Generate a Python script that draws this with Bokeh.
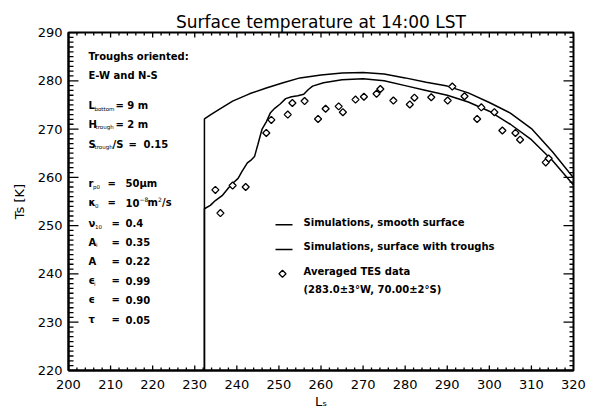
import math
from bokeh.plotting import figure
from bokeh.models import Range1d, SingleIntervalTicker, Label
from bokeh.embed import file_html
from bokeh.resources import INLINE

# ---------------- data ----------------
smooth_ls = [230.0, 232.3, 232.3, 234.0, 236.0, 239.0, 243.0, 247.0, 251.0, 255.0, 260.0,
             265.0, 270.0, 275.0, 280.0, 285.0, 290.0, 295.0, 300.0, 305.0, 310.0, 315.0, 320.0]
smooth_ts = [148.0, 148.0, 272.1, 273.1, 274.2, 275.8, 277.3, 278.5, 279.6, 280.6, 281.2,
             281.6, 281.7, 281.4, 280.6, 279.7, 278.9, 277.5, 275.5, 273.3, 270.1, 265.3, 259.9]

troughs_ls = [230.0, 232.3, 232.3, 233.7, 234.9, 236.5, 238.0, 239.3, 240.3, 241.2, 242.5, 243.3,
              244.2, 245.0, 246.0, 247.0, 248.0, 249.0, 250.3, 251.6, 253.0, 254.5, 255.9,
              257.0, 258.0, 260.6, 265.0, 270.0, 275.0, 280.0, 285.0, 290.0, 295.0, 300.0,
              305.0, 310.0, 315.0, 320.0]
troughs_ts = [148.0, 148.0, 253.5, 254.2, 255.2, 256.2, 257.8, 259.0, 259.8, 261.2, 263.0, 263.5,
              264.3, 266.8, 270.0, 271.5, 273.4, 274.3, 275.2, 276.3, 276.7, 276.9, 277.2,
              278.2, 278.9, 279.6, 280.2, 280.4, 280.0, 279.0, 278.0, 277.0, 275.6, 273.7,
              271.0, 267.8, 263.5, 258.4]

tes_ls = [234.9, 236.1, 239.0, 242.1, 247.0, 248.2, 252.1, 253.2, 256.1, 259.3, 261.1, 264.2,
          265.2, 268.2, 270.2, 273.2, 274.1, 277.2, 281.1, 282.2, 286.2, 290.1, 291.2, 294.1,
          297.1, 298.1, 301.2, 303.1, 306.2, 307.3, 313.4, 314.1]
tes_ts = [257.4, 252.6, 258.3, 258.0, 269.2, 271.9, 273.0, 275.4, 275.8, 272.1, 274.2, 274.7,
          273.5, 276.1, 276.7, 277.3, 278.3, 275.9, 275.1, 276.5, 276.6, 275.9, 278.8, 276.8,
          272.1, 274.5, 273.5, 269.7, 269.2, 267.8, 263.1, 263.9]

x_min, x_max, x_major, x_minor = 200, 320, 10, 2
y_min, y_max, y_major, y_minor = 220, 290, 10, 1

title_text = "Surface temperature at 14:00 LST"
x_label = "L\u209b"
y_label = "Ts [K]"

legend_texts = ["Simulations, smooth surface", "Simulations, surface with troughs",
                "Averaged TES data", "(283.0\u00b13\u00b0W, 70.00\u00b12\u00b0S)"]

# --------------- figure ---------------
FONT = "DejaVu Sans"
p = figure(width=591, height=413, x_range=Range1d(x_min, x_max), y_range=Range1d(y_min, y_max),
           output_backend="svg", toolbar_location=None,
           min_border_left=68, min_border_right=18, min_border_top=32, min_border_bottom=43,
           title=title_text)
p.title.align = "center"
p.title.text_font = FONT
p.title.text_font_size = "17px"
p.title.text_font_style = "normal"
p.title.text_color = "black"
p.title.standoff = 2
p.xgrid.visible = False
p.ygrid.visible = False
p.outline_line_color = "black"
p.outline_line_width = 2
p.background_fill_color = "white"
p.border_fill_color = "white"

xa = p.xaxis[0]
xa.ticker = SingleIntervalTicker(interval=x_major)
ya = p.yaxis[0]
ya.ticker = SingleIntervalTicker(interval=y_major)

for ax in (xa, ya):
    ax.major_tick_in = 0
    ax.major_tick_out = 0
    ax.minor_tick_in = 0
    ax.minor_tick_out = 0
    ax.axis_line_color = "black"
    ax.axis_line_width = 2
    ax.major_label_text_font = FONT
    ax.major_label_text_font_size = "13px"
    ax.major_label_text_color = "black"
    ax.axis_label_text_font = FONT
    ax.axis_label_text_font_size = "13px"
    ax.axis_label_text_font_style = "normal"
    ax.axis_label_text_color = "black"

xa.axis_label = x_label
xa.major_label_standoff = 9
xa.axis_label_standoff = 2
ya.axis_label = y_label
ya.major_label_standoff = 6
ya.axis_label_standoff = 8

# pixel <-> data helpers (frame is 505 x 338 px)
XPX0, XPX_PER = 68.0, 505.0 / (x_max - x_min)
YPX0, YPX_PER = 32.0, 338.0 / (y_max - y_min)


def dx(px):
    return x_min + (px - XPX0) / XPX_PER


def dy(py):
    return y_max - (py - YPX0) / YPX_PER


# --------------- inward ticks on all four sides (drawn as short lines) ---------------
xmaj = [float(v) for v in range(x_min, x_max + 1, x_major)]
xmin_t = [float(v) for v in range(x_min, x_max + 1, x_minor) if v % x_major != 0]
ymaj = [float(v) for v in range(y_min, y_max + 1, y_major)]
ymin_t = [float(v) for v in range(y_min, y_max + 1, y_minor) if v % y_major != 0]

txs, tys = [], []
for xs, ln in ((xmaj, 5), (xmin_t, 3)):
    for x in xs:
        txs.append([x, x]); tys.append([float(y_min), y_min + ln / YPX_PER])
        txs.append([x, x]); tys.append([float(y_max), y_max - ln / YPX_PER])
for ys, lnl, lnr in ((ymaj, 10, 10), (ymin_t, 5, 4)):
    for y in ys:
        txs.append([float(x_min), x_min + lnl / XPX_PER]); tys.append([y, y])
        txs.append([float(x_max), x_max - lnr / XPX_PER]); tys.append([y, y])

p.multi_line(xs=txs, ys=tys, line_color="black", line_width=1.3)

# --------------- data marks ---------------
p.line(smooth_ls, smooth_ts, line_color="black", line_width=1.5)
p.line(troughs_ls, troughs_ts, line_color="black", line_width=1.5)
p.scatter(tes_ls, tes_ts, marker="square", angle=math.pi / 4, size=5,
          fill_color="white", line_color="black", line_width=1.3)


def lab(text, xpx, ypx, size=10, bold=True, yoff=0):
    p.add_layout(Label(x=dx(xpx), y=dy(ypx), text=text, x_units="data", y_units="data",
                       y_offset=yoff, text_font=FONT, text_font_size=f"{size}px",
                       text_font_style="bold" if bold else "normal",
                       text_color="black", text_baseline="middle", text_align="left"))


# --------------- parameter block ---------------
X0 = 88
rows = [
    (56.0, [("Troughs oriented:", 0, 10, True, 0)]),
    (75.3, [("E-W and N-S", 0, 10, True, 0)]),
    (105.0, [("L", 0, 10, True, 0), ("bottom", 6, 5.5, False, -3), ("= 9 m", 27, 10, True, 0)]),
    (123.8, [("H", 0, 10, True, 0), ("trough", 7, 5.5, False, -3), ("= 2 m", 27, 10, True, 0)]),
    (143.8, [("S", 0, 10, True, 0), ("trough", 6, 5.5, False, -3), ("/S", 24, 10, True, 0),
             ("=", 40, 10, True, 0), ("0.15", 55, 10, True, 0)]),
    (183.3, [("r", 0, 10, True, 0), ("p0", 4.5, 5.5, False, -3), ("=", 19, 10, True, 0),
             ("50\u03bcm", 37, 10, True, 0)]),
    (202.0, [("\u03ba", 0, 10, True, 0), ("0", 6.5, 5.5, False, -3), ("=", 19, 10, True, 0),
             ("10", 37, 10, True, 0), ("\u22128", 51, 6, False, 3), ("m", 59, 10, True, 0),
             ("2", 69.5, 6, False, 3), ("/s", 73.5, 10, True, 0)]),
    (222.5, [("\u03bd", 0, 10, True, 0), ("10", 6.5, 5.5, False, -3), ("=", 23, 10, True, 0),
             ("0.4", 37, 10, True, 0)]),
    (241.5, [("A", 0, 10, True, 0), ("i", 7.5, 5.5, False, -3), ("=", 23, 10, True, 0),
             ("0.35", 37, 10, True, 0)]),
    (260.8, [("A", 0, 10, True, 0), ("=", 23, 10, True, 0), ("0.22", 37, 10, True, 0)]),
    (280.0, [("\u03f5", 0, 10, True, 0), ("i", 5.5, 5.5, False, -3), ("=", 23, 10, True, 0),
             ("0.99", 37, 10, True, 0)]),
    (299.2, [("\u03f5", 0, 10, True, 0), ("=", 23, 10, True, 0), ("0.90", 37, 10, True, 0)]),
    (319.0, [("\u03c4", 0, 10, True, 0), ("=", 23, 10, True, 0), ("0.05", 37, 10, True, 0)]),
]
for ypx, pieces in rows:
    for txt, off, size, bold, yoff in pieces:
        lab(txt, X0 + off, ypx, size=size, bold=bold, yoff=yoff)

# --------------- legend ---------------
p.segment(x0=[dx(275), dx(275)], y0=[dy(224.3), dy(249.0)],
          x1=[dx(292), dx(292)], y1=[dy(224.3), dy(249.0)], line_color="black", line_width=1.5)
p.scatter([dx(282)], [dy(273.3)], marker="square", angle=math.pi / 4, size=5,
          fill_color="white", line_color="black", line_width=1.3)
for txt, ypx in zip(legend_texts, [221.7, 245.5, 271.0, 288.5]):
    lab(txt, 303, ypx, size=10, bold=True)

open("out.html", "w").write(file_html(p, INLINE))
